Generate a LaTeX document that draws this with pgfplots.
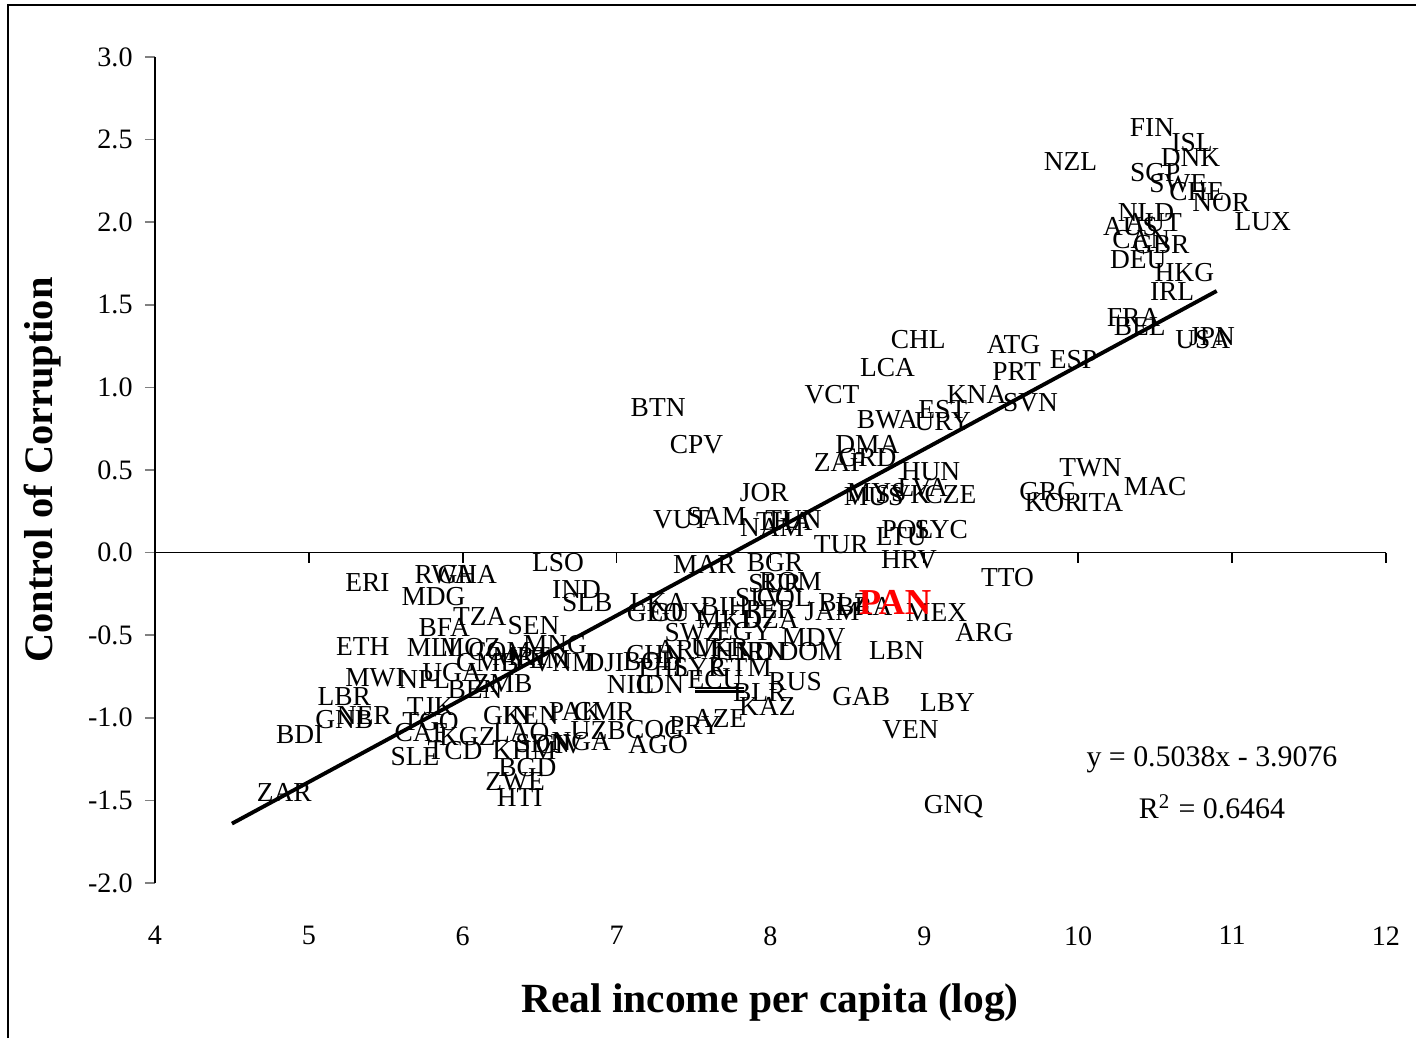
\documentclass[border=0pt]{standalone}
\usepackage{fontspec}
\setmainfont{Liberation Serif}
\usepackage{pgfplots}
\usepackage{pgfplotstable}
\pgfplotsset{compat=1.18}

% country labels: log income, control of corruption
\pgfplotstableread{
x y label
10.48 2.573 FIN
10.74 2.482 ISL
10.73 2.391 DNK
9.95 2.367 NZL
10.50 2.300 SGP
10.65 2.234 SWE
10.77 2.185 CHE
10.93 2.119 NOR
11.20 2.004 LUX
10.44 2.058 NLD
10.34 1.973 AUS
10.49 1.998 AUT
10.41 1.895 CAN
10.54 1.864 GBR
10.39 1.774 DEU
10.69 1.695 HKG
10.61 1.580 IRL
10.36 1.422 FRA
10.40 1.368 BEL
10.81 1.289 USA
10.87 1.307 JPN
8.96 1.289 CHL
9.58 1.259 ATG
9.97 1.168 ESP
8.76 1.120 LCA
9.60 1.096 PRT
8.40 0.956 VCT
9.34 0.956 KNA
9.69 0.908 SVN
9.12 0.866 EST
8.76 0.805 BWA
9.12 0.793 URY
8.63 0.654 DMA
8.63 0.575 GRD
8.45 0.545 ZAF
9.04 0.490 HUN
10.08 0.515 TWN
10.50 0.400 MAC
9.17 0.351 CZE
8.69 0.363 MYS
8.67 0.339 MUS
8.86 0.351 SVK
8.99 0.393 LVA
9.80 0.369 GRC
9.84 0.303 KOR
10.15 0.303 ITA
8.89 0.139 POL
9.11 0.139 SYC
8.85 0.097 LTU
8.46 0.048 TUR
8.90 -0.042 HRV
7.27 0.878 BTN
7.52 0.654 CPV
7.96 0.363 JOR
7.42 0.200 VUT
7.65 0.218 SAM
8.01 0.151 NAM
8.09 0.188 THA
8.15 0.200 TUN
7.57 -0.073 MAR
8.03 -0.061 BGR
9.54 -0.151 TTO
9.08 -0.363 MEX
9.39 -0.484 ARG
8.82 -0.593 LBN
8.59 -0.872 GAB
9.15 -0.908 LBY
8.91 -1.071 VEN
9.19 -1.537 GNQ
7.93 -0.847 BLR
7.98 -0.932 KAZ
8.16 -0.781 RUS
7.67 -1.005 AZE
7.51 -1.047 PRY
7.25 -1.071 COG
7.27 -1.162 AGO
6.88 -1.077 UZB
6.73 -0.962 PAK
6.92 -0.962 CMR
6.29 -0.987 GIN
6.44 -0.987 KEN
6.38 -1.090 LAO
6.52 -1.156 SDN
6.40 -1.198 KHM
6.63 -1.162 CIV
6.77 -1.144 NGA
6.42 -1.301 BGD
6.34 -1.386 ZWE
6.37 -1.483 HTI
4.84 -1.453 ZAR
4.94 -1.102 BDI
5.23 -1.011 GNB
5.36 -0.987 NER
5.23 -0.872 LBR
5.43 -0.757 MWI
5.75 -0.769 NPL
5.79 -0.932 TJK
5.79 -1.023 TGO
5.73 -1.090 CAF
6.03 -1.114 KGZ
5.95 -1.198 TCD
5.69 -1.235 SLE
5.93 -0.726 UGA
6.08 -0.829 BEN
6.26 -0.793 ZMB
6.16 -0.666 GMB
5.35 -0.569 ETH
5.80 -0.575 MLI
6.05 -0.575 MOZ
6.24 -0.599 COM
6.38 -0.630 MRT
6.60 -0.557 MNG
6.50 -0.648 YEM
6.66 -0.666 VNM
6.92 -0.666 DJI
5.88 -0.454 BFA
6.11 -0.387 TZA
6.46 -0.442 SEN
5.81 -0.266 MDG
5.38 -0.182 ERI
5.88 -0.133 RWA
6.03 -0.133 GHA
6.62 -0.061 LSO
6.74 -0.224 IND
6.81 -0.303 SLB
7.09 -0.799 NIC
7.28 -0.799 IDN
7.64 -0.769 ECU
7.81 -0.696 GTM
7.22 -0.660 BOL
7.31 -0.696 PHL
7.54 -0.696 SYR
7.25 -0.617 CHN
7.46 -0.587 ARM
7.67 -0.575 UKR
7.83 -0.599 HND
7.94 -0.599 IRN
8.26 -0.599 DOM
7.50 -0.484 SWZ
8.28 -0.515 MDV
7.83 -0.478 EGY
7.73 -0.406 MKD
8.00 -0.406 DZA
7.25 -0.363 GEO
7.27 -0.303 LKA
7.41 -0.363 GUY
7.70 -0.327 BIH
8.00 -0.345 PER
8.40 -0.357 JAM
8.48 -0.303 BLZ
8.61 -0.327 BRA
8.09 -0.272 COL
7.93 -0.272 SLV
8.13 -0.176 ROM
8.03 -0.188 SUR
}\countries

\pgfplotstableread{
x y label
8.81 -0.303 PAN
}\panama

\begin{document}
\begin{tikzpicture}
\useasboundingbox (-15.5mm,-15.5mm) rectangle (126.1mm,88.3mm);
\draw[line width=0.5pt] (-14.7mm,-15.5mm) -- (-14.7mm,87.8mm) -- (126.1mm,87.8mm);
\begin{axis}[
    at={(0,0)}, anchor=south west,
    scale only axis,
    width=123.1mm, height=82.6mm,
    xmin=4, xmax=12, ymin=-2, ymax=3,
    axis y line*=left, axis x line*=bottom,
    x axis line style={draw=none},
    y axis line style={line width=0.5pt},
    xtick={4,5,...,12},
    ytick={-2,-1.5,-1,-0.5,0,0.5,1,1.5,2,2.5,3},
    xtick style={draw=none},
    ytick style={line width=0.5pt},
    tick align=outside, major tick length=1mm,
    tick label style={font=\fontsize{8}{10}\selectfont},
    /pgf/number format/assume math mode=true,
    yticklabel style={/pgf/number format/.cd, fixed, fixed zerofill, precision=1},
    xticklabel style={yshift=-2.1mm},
    clip=false,
]
\draw[line width=0.5pt] (axis cs:4,0) -- (axis cs:12,0);
\pgfplotsinvokeforeach{5,...,12}{\draw[line width=0.5pt] (axis cs:#1,0) -- ([yshift=-1mm]axis cs:#1,0);}

\addplot[only marks, mark=*, mark size=0pt, mark options={draw=none, fill=none},
    point meta=explicit symbolic, nodes near coords, nodes near coords align=center,
    every node near coord/.append style={anchor=center, inner sep=0pt, text=black,
        font=\fontsize{7.8}{9}\selectfont}]
    table[x=x, y=y, meta=label] {\countries};

\addplot[only marks, mark=*, mark size=0pt, mark options={draw=none, fill=none},
    point meta=explicit symbolic, nodes near coords, nodes near coords align=center,
    every node near coord/.append style={anchor=center, inner sep=0pt, text=red,
        font=\fontsize{10.4}{12}\selectfont\bfseries}]
    table[x=x, y=y, meta=label] {\panama};

% trend line y = 0.5038x - 3.9076
\addplot[black, line width=1.1pt] coordinates {(4.5,-1.6405) (10.9,1.5838)};

% stray double rule near ECU
\addplot[black, line width=0.6pt] coordinates {(7.51,-0.817) (7.83,-0.817)};
\addplot[black, line width=0.6pt] coordinates {(7.51,-0.841) (7.83,-0.841)};
\end{axis}
\node[font=\fontsize{11.8}{14}\selectfont\bfseries] at (61.5mm,-12.0mm) {Real income per capita (log)};
\node[font=\fontsize{11.5}{14}\selectfont\bfseries, rotate=90] at (-11.2mm,41.3mm) {Control of Corruption};
\node[font=\fontsize{8.5}{10}\selectfont] at (105.7mm,12.3mm) {y = 0.5038x - 3.9076};
\node[font=\fontsize{8.5}{10}\selectfont] at (105.7mm,7.6mm) {R\textsuperscript{2} = 0.6464};
\end{tikzpicture}
\end{document}
